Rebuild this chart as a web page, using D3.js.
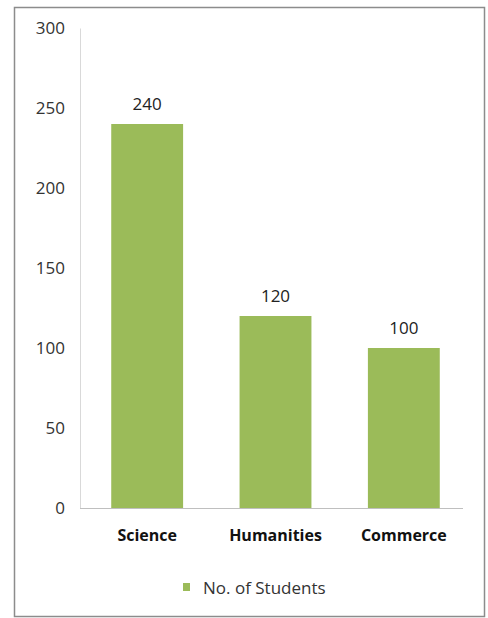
<!DOCTYPE html>
<html><head><meta charset="utf-8">
<script src="https://cdn.jsdelivr.net/npm/d3@7"></script>
<style>body{margin:0;background:#fff}</style>
</head><body>
<svg id="c" width="488" height="618"></svg>
<script>
const categories = ["Science", "Humanities", "Commerce"];
const students = [240, 120, 100];
const yTicks = [0, 50, 100, 150, 200, 250, 300];
const seriesName = "No. of Students";

const svg = d3.select("#c");
const font = "'Open Sans', 'Noto Sans', sans-serif";
const mLeft = 80, mRight = 465, mTop = 28, mBottom = 508;

svg.append("rect").attr("x", 14.5).attr("y", 7.5).attr("width", 470).attr("height", 609)
  .attr("fill", "#fff").attr("stroke", "#8c8c8c").attr("stroke-width", 1.5);

const x = d3.scaleBand().domain(categories).range([mLeft + 3, mRight + 3]).paddingInner(0.44).paddingOuter(0.22);
const y = d3.scaleLinear().domain([0, 300]).range([mBottom, mTop]);

const yAxis = svg.append("g").attr("transform", `translate(${mLeft},0)`)
  .call(d3.axisLeft(y).tickValues(yTicks).tickSize(0).tickPadding(15));
yAxis.select(".domain").attr("stroke", "#d9d9d9");
yAxis.selectAll("text").attr("font-family", font).attr("font-size", 17).attr("fill", "#333");

svg.selectAll("rect.bar").data(students).join("rect").attr("class", "bar")
  .attr("x", (d, i) => x(categories[i])).attr("width", x.bandwidth())
  .attr("y", d => y(d)).attr("height", d => y(0) - y(d))
  .attr("fill", "#9bbb59");

const xAxis = svg.append("g").attr("transform", `translate(0,${mBottom})`)
  .call(d3.axisBottom(x).tickSize(0).tickPadding(22).tickSizeOuter(0));
xAxis.select(".domain").remove();
xAxis.selectAll("text").attr("font-family", font).attr("font-size", 16)
  .attr("font-weight", "bold").attr("fill", "#111");
svg.append("line").attr("x1", mLeft).attr("x2", 463).attr("y1", y(0) + 0.5).attr("y2", y(0) + 0.5)
  .attr("stroke", "#bfbfbf");

svg.selectAll("text.val").data(students).join("text").attr("class", "val")
  .attr("x", (d, i) => x(categories[i]) + x.bandwidth() / 2).attr("y", d => y(d) - 14)
  .attr("text-anchor", "middle").attr("font-family", font).attr("font-size", 17).attr("fill", "#222")
  .text(d => d);

const lg = svg.append("g");
lg.append("rect").attr("x", 183).attr("y", 583).attr("width", 7).attr("height", 8).attr("fill", "#9bbb59");
lg.append("text").attr("x", 203).attr("y", 588).attr("dy", "0.35em")
  .attr("font-family", font).attr("font-size", 17).attr("fill", "#333").text(seriesName);
</script>
</body></html>
